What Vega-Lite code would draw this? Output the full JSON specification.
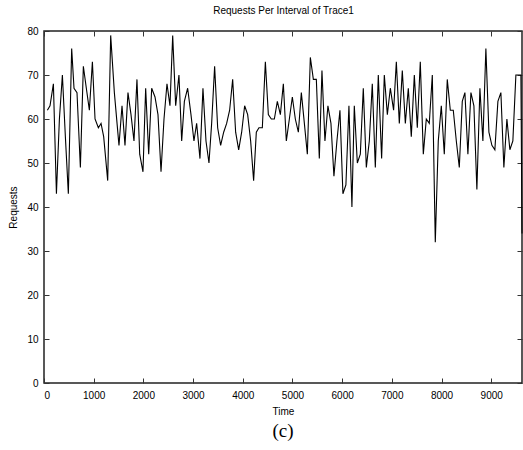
{
  "$schema": "https://vega.github.io/schema/vega-lite/v6.json",
  "width": 478,
  "height": 352,
  "autosize": {"type": "none"},
  "padding": {"left": 44, "top": 31, "right": 1, "bottom": 67},
  "background": "white",
  "config": {
    "view": {"stroke": "#222", "strokeWidth": 1.5},
    "font": "Liberation Sans",
    "axis": {"grid": false, "domain": false, "tickColor": "#333", "tickWidth": 1, "labelFont": "Liberation Sans", "titleFont": "Liberation Sans", "labelFontSize": 10, "titleFontSize": 10, "titleFontWeight": "normal", "labelColor": "#000", "titleColor": "#000"}
  },
  "title": {"text": "(c)", "orient": "bottom", "font": "Liberation Serif", "fontSize": 19, "fontWeight": "normal", "color": "#000", "offset": 6},
  "data": {"values": [
    {"t":68,"v":62},{"t":121,"v":63},{"t":189,"v":68},{"t":250,"v":43},{"t":310,"v":60},{"t":370,"v":70},{"t":430,"v":56},{"t":490,"v":43},{"t":557,"v":76},{"t":604,"v":67},
    {"t":664,"v":66},{"t":732,"v":49},{"t":792,"v":72},{"t":852,"v":67},{"t":913,"v":62},{"t":974,"v":73},{"t":1027,"v":60},{"t":1094,"v":58},{"t":1148,"v":59},{"t":1201,"v":56},
    {"t":1282,"v":46},{"t":1342,"v":79},{"t":1416,"v":66},{"t":1509,"v":54},{"t":1570,"v":63},{"t":1630,"v":54},{"t":1690,"v":66},{"t":1751,"v":61},{"t":1811,"v":55},{"t":1871,"v":69},
    {"t":1926,"v":52},{"t":1992,"v":48},{"t":2046,"v":67},{"t":2107,"v":52},{"t":2167,"v":67},{"t":2234,"v":65},{"t":2294,"v":61},{"t":2355,"v":48},{"t":2415,"v":60},{"t":2475,"v":68},
    {"t":2535,"v":63},{"t":2590,"v":79},{"t":2650,"v":63},{"t":2716,"v":70},{"t":2771,"v":55},{"t":2825,"v":64},{"t":2891,"v":67},{"t":2958,"v":61},{"t":3018,"v":55},{"t":3072,"v":59},
    {"t":3139,"v":51},{"t":3199,"v":67},{"t":3260,"v":55},{"t":3320,"v":50},{"t":3374,"v":59},{"t":3434,"v":72},{"t":3495,"v":58},{"t":3555,"v":54},{"t":3616,"v":57},{"t":3676,"v":59},
    {"t":3736,"v":62},{"t":3797,"v":69},{"t":3857,"v":57},{"t":3918,"v":53},{"t":3978,"v":57},{"t":4038,"v":63},{"t":4099,"v":61},{"t":4159,"v":55},{"t":4219,"v":46},{"t":4273,"v":57},
    {"t":4326,"v":58},{"t":4394,"v":58},{"t":4455,"v":73},{"t":4515,"v":61},{"t":4575,"v":60},{"t":4636,"v":60},{"t":4696,"v":64},{"t":4757,"v":61},{"t":4817,"v":68},{"t":4877,"v":55},
    {"t":4938,"v":60},{"t":4998,"v":65},{"t":5058,"v":60},{"t":5119,"v":57},{"t":5179,"v":66},{"t":5240,"v":59},{"t":5300,"v":52},{"t":5360,"v":74},{"t":5421,"v":69},{"t":5481,"v":69},
    {"t":5541,"v":51},{"t":5594,"v":71},{"t":5654,"v":55},{"t":5714,"v":63},{"t":5775,"v":59},{"t":5835,"v":47},{"t":5895,"v":55},{"t":5956,"v":62},{"t":6016,"v":43},{"t":6076,"v":45},
    {"t":6137,"v":63},{"t":6197,"v":40},{"t":6245,"v":63},{"t":6306,"v":50},{"t":6366,"v":52},{"t":6426,"v":67},{"t":6487,"v":49},{"t":6547,"v":55},{"t":6607,"v":68},{"t":6668,"v":49},
    {"t":6728,"v":70},{"t":6795,"v":51},{"t":6849,"v":70},{"t":6910,"v":61},{"t":6970,"v":67},{"t":7036,"v":62},{"t":7091,"v":73},{"t":7151,"v":59},{"t":7211,"v":71},{"t":7272,"v":59},
    {"t":7332,"v":67},{"t":7392,"v":56},{"t":7453,"v":70},{"t":7513,"v":58},{"t":7573,"v":73},{"t":7634,"v":52},{"t":7694,"v":60},{"t":7754,"v":59},{"t":7815,"v":70},{"t":7875,"v":32},
    {"t":7935,"v":55},{"t":7996,"v":63},{"t":8056,"v":52},{"t":8116,"v":69},{"t":8177,"v":62},{"t":8237,"v":62},{"t":8298,"v":55},{"t":8358,"v":49},{"t":8418,"v":64},{"t":8471,"v":66},
    {"t":8531,"v":52},{"t":8592,"v":66},{"t":8652,"v":63},{"t":8712,"v":44},{"t":8773,"v":67},{"t":8833,"v":55},{"t":8893,"v":76},{"t":8954,"v":57},{"t":9014,"v":54},{"t":9074,"v":53},
    {"t":9135,"v":64},{"t":9195,"v":66},{"t":9255,"v":49},{"t":9316,"v":60},{"t":9376,"v":53},{"t":9436,"v":55},{"t":9497,"v":70},{"t":9557,"v":70},{"t":9598,"v":70},{"t":9620,"v":34}
  ]},
  "resolve": {"axis": {"x": "independent", "y": "independent"}},
  "layer": [
    {
      "mark": {"type": "line", "color": "#000", "strokeWidth": 1.1},
      "encoding": {
        "x": {"field": "t", "type": "quantitative", "scale": {"domain": [0, 9620], "nice": false, "zero": false},
              "axis": {"title": "Time", "values": [0,1000,2000,3000,4000,5000,6000,7000,8000,9000], "tickSize": -5, "labelPadding": 12, "titlePadding": 6, "format": "d"}},
        "y": {"field": "v", "type": "quantitative", "scale": {"domain": [0, 80], "nice": false},
              "axis": {"title": "Requests", "values": [0,10,20,30,40,50,60,70,80], "tickSize": -5, "labelPadding": 11, "titlePadding": 8}}
      }
    },
    {
      "mark": {"type": "line", "color": "#000", "strokeOpacity": 0},
      "encoding": {
        "x": {"field": "t", "type": "quantitative", "scale": {"domain": [0, 9620], "nice": false, "zero": false},
              "axis": {"orient": "top", "title": "Requests Per Interval of Trace1", "labels": false, "values": [0,1000,2000,3000,4000,5000,6000,7000,8000,9000], "tickSize": -5, "titlePadding": 15}},
        "y": {"field": "v", "type": "quantitative", "scale": {"domain": [0, 80], "nice": false},
              "axis": {"orient": "right", "title": null, "labels": false, "values": [0,10,20,30,40,50,60,70,80], "tickSize": -5}}
      }
    }
  ]
}
